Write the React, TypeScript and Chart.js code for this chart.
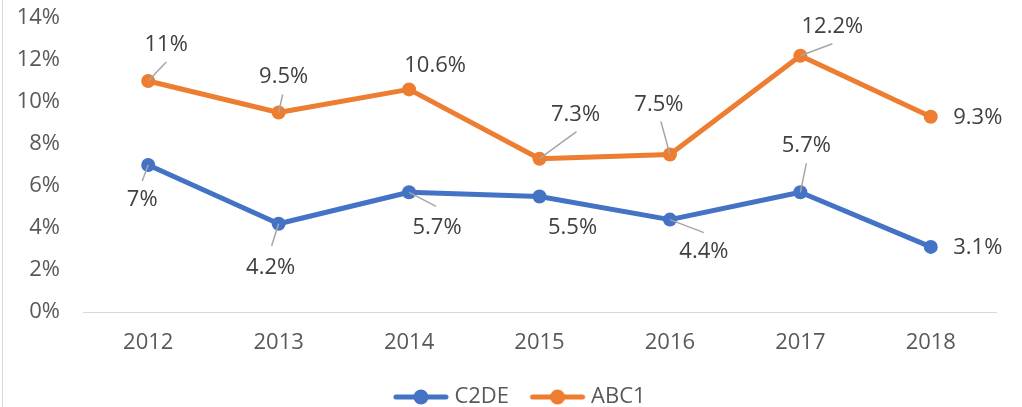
import React, { useEffect, useRef } from "react";
import { Chart, registerables } from "chart.js";

Chart.register(...registerables);

const categories = ["2012", "2013", "2014", "2015", "2016", "2017", "2018"];
const c2deValues = [7, 4.2, 5.7, 5.5, 4.4, 5.7, 3.1];
const abc1Values = [11, 9.5, 10.6, 7.3, 7.5, 12.2, 9.3];
const yTicks = [0, 2, 4, 6, 8, 10, 12, 14];

// label placement relative to the marker: [dx, dy, leaderDx, leaderDy] (leader null = none)
const c2deLabelPos: [number, number, number | null, number | null][] = [
  [-6, 35, -6, 16],
  [-8, 44, -7, 22],
  [28, 35, 27, 14],
  [33, 31, null, null],
  [34, 32, 34, 13],
  [6, -47, 6, -29],
  [47, 1, null, null],
];
const abc1LabelPos: [number, number, number | null, number | null][] = [
  [18, -36, 18, -19],
  [5, -36, 4, -18],
  [26, -24, null, null],
  [36, -44, 37, -27],
  [-11, -50, -9, -33],
  [32, -29, 32, -12],
  [47, 1, null, null],
];

const BLUE = "#4472C4";
const ORANGE = "#ED7D31";
const FONT = "'Open Sans', sans-serif";
const FS = 22;

function legendImage(color: string): HTMLCanvasElement {
  const c = document.createElement("canvas");
  c.width = 60;
  c.height = 16;
  const ctx = c.getContext("2d")!;
  ctx.strokeStyle = color;
  ctx.lineWidth = 5;
  ctx.lineCap = "round";
  ctx.beginPath();
  ctx.moveTo(5, 8);
  ctx.lineTo(55, 8);
  ctx.stroke();
  ctx.fillStyle = color;
  ctx.beginPath();
  ctx.arc(30, 8, 7.5, 0, Math.PI * 2);
  ctx.fill();
  return c;
}

const labelsPlugin = {
  id: "customLabels",
  afterLayout(chart: any) {
    const lg = chart.legend;
    if (lg) {
      lg.left += 24;
      lg.right += 24;
    }
  },
  beforeDraw(chart: any) {
    const ctx = chart.ctx;
    ctx.save();
    ctx.strokeStyle = "#D9D9D9";
    ctx.lineWidth = 1;
    ctx.beginPath();
    ctx.moveTo(2.5, 0);
    ctx.lineTo(2.5, chart.height);
    ctx.stroke();
    ctx.restore();
  },
  afterDatasetsDraw(chart: any) {
    const ctx = chart.ctx;
    const positions = [c2deLabelPos, abc1LabelPos];
    chart.data.datasets.forEach((ds: any, d: number) => {
      const meta = chart.getDatasetMeta(d);
      meta.data.forEach((el: any, i: number) => {
        const [dx, dy, lx, ly] = positions[d][i];
        const x = el.x;
        const y = el.y;
        ctx.save();
        if (lx !== null && ly !== null) {
          ctx.strokeStyle = "#A6A6A6";
          ctx.lineWidth = 1.5;
          ctx.beginPath();
          ctx.moveTo(x, y);
          ctx.lineTo(x + lx, y + ly);
          ctx.stroke();
        }
        ctx.fillStyle = "#404040";
        ctx.font = `${FS}px ${FONT}`;
        ctx.textAlign = "center";
        ctx.textBaseline = "middle";
        ctx.fillText(`${ds.data[i]}%`, x + dx, y + dy);
        ctx.restore();
      });
    });
  },
};

export default function App() {
  const ref = useRef<HTMLCanvasElement | null>(null);

  useEffect(() => {
    if (!ref.current) return;
    const chart = new Chart(ref.current, {
      type: "line",
      data: {
        labels: categories,
        datasets: [
          {
            label: "C2DE",
            data: c2deValues,
            borderColor: BLUE,
            backgroundColor: BLUE,
            borderWidth: 5,
            pointRadius: 7,
            pointBorderWidth: 0,
            pointBackgroundColor: BLUE,
            borderCapStyle: "round",
            borderJoinStyle: "round",
            tension: 0,
          },
          {
            label: "ABC1",
            data: abc1Values,
            borderColor: ORANGE,
            backgroundColor: ORANGE,
            borderWidth: 5,
            pointRadius: 7,
            pointBorderWidth: 0,
            pointBackgroundColor: ORANGE,
            borderCapStyle: "round",
            borderJoinStyle: "round",
            tension: 0,
          },
        ],
      },
      options: {
        responsive: false,
        animation: false,
        layout: { padding: { top: 18, right: 26, bottom: 0, left: 0 } },
        elements: { point: { pointStyle: "circle" } },
        scales: {
          x: {
            offset: true,
            grid: { display: false, drawTicks: false },
            border: { display: true, color: "#D9D9D9", width: 1 },
            ticks: { color: "#595959", font: { family: FONT, size: FS }, padding: 18 },
            afterFit: (s: any) => {
              s.height = 48;
              s.paddingLeft = 0;
              s.paddingRight = 0;
            },
          },
          y: {
            min: 0,
            max: 14,
            afterBuildTicks: (s: any) => {
              s.ticks = yTicks.map((v) => ({ value: v }));
            },
            grid: { display: false, drawTicks: false },
            border: { display: false },
            ticks: {
              color: "#595959",
              font: { family: FONT, size: FS },
              padding: 23,
              callback: (v: any) => `${v}%`,
            },
            afterFit: (s: any) => {
              s.width = 83;
              s.paddingTop = 0;
              s.paddingBottom = 0;
            },
          },
        },
        plugins: {
          tooltip: { enabled: false },
          legend: {
            position: "bottom",
            maxHeight: 47,
            labels: {
              usePointStyle: true,
              pointStyleWidth: 45,
              padding: 26,
              color: "#595959",
              font: { family: FONT, size: FS },
              generateLabels: (ch: any) =>
                ch.data.datasets.map((ds: any, i: number) => ({
                  text: ds.label,
                  pointStyle: legendImage(ds.borderColor),
                  fillStyle: ds.borderColor,
                  strokeStyle: ds.borderColor,
                  lineWidth: 0,
                  hidden: false,
                  datasetIndex: i,
                  fontColor: "#595959",
                })),
            },
          },
        },
      },
      plugins: [labelsPlugin],
    } as any);
    return () => chart.destroy();
  }, []);

  return (
    <canvas
      ref={ref}
      width={1022}
      height={407}
      style={{ position: "absolute", left: 0, top: 0, display: "block" }}
    />
  );
}
